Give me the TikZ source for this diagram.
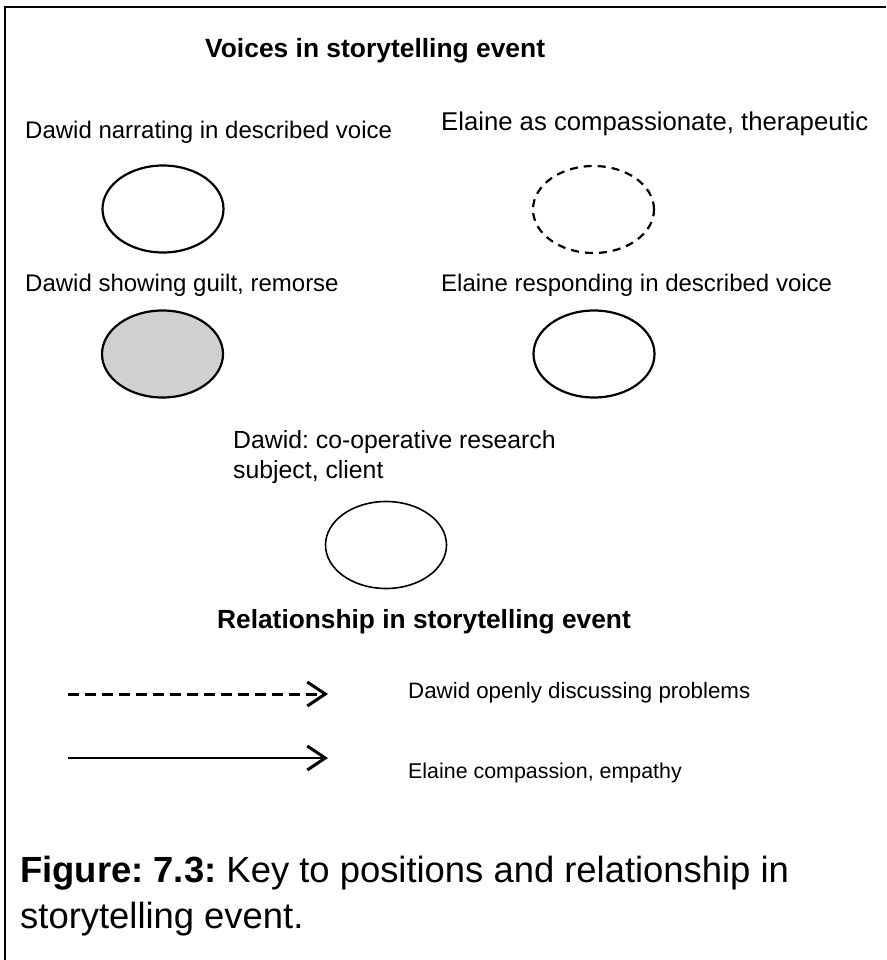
\documentclass[tikz,border=0pt]{standalone}
\usepackage{fontspec}
\setmainfont{Liberation Sans}
\usetikzlibrary{arrows.meta,shapes.geometric}
\definecolor{voicegray}{HTML}{D0D0D0}
\frenchspacing
\tikzset{
  voice/.style={ellipse, draw=black, line width=2.2pt, minimum width=121pt, minimum height=87pt, inner sep=0pt},
  lbl/.style={anchor=base west, inner sep=0pt, font=\fontsize{24}{28}\selectfont},
  head/.style={anchor=base west, inner sep=0pt, font=\fontsize{26.4}{29}\selectfont\bfseries},
  captext/.style={anchor=base west, inner sep=0pt, font=\fontsize{36.4}{45}\selectfont, align=left},
  rel/.style={line width=3pt, -{Straight Barb[length=18pt,width=24pt,line width=3pt]}},
}
\begin{document}
\begin{tikzpicture}[x=1pt,y=-1pt]
\useasboundingbox (0,0) rectangle (886,960);
\draw[line width=2.5pt] (886,7) -- (5,7) -- (5,960);
\node[head] (h1) at (205,58) {Voices in storytelling event};
\node[lbl] (t1) at (25,139) {Dawid narrating in described voice};
\node[lbl, font=\fontsize{25.7}{28}\selectfont] (t2) at (441,131) {Elaine as compassionate, therapeutic};
\node[voice] (e1) at (163,209) {};
\node[voice, dashed, dash pattern=on 8pt off 6pt] (e2) at (593.5,209.5) {};
\node[lbl] (t3) at (25,291) {Dawid showing guilt, remorse};
\node[lbl] (t4) at (441,291) {Elaine responding in described voice};
\node[voice, fill=voicegray] (e3) at (162.5,354) {};
\node[voice] (e4) at (594,354) {};
\node[lbl, font=\fontsize{24.8}{28}\selectfont] (t5) at (233,448) {Dawid: co-operative research};
\node[lbl, font=\fontsize{24.8}{28}\selectfont] (t6) at (233,478) {subject, client};
\node[voice, line width=1.6pt] (e5) at (386,545) {};
\node[head, font=\fontsize{26.3}{29}\selectfont\bfseries] (h2) at (217,628) {Relationship in storytelling event};
\coordinate (a1s) at (68,694);
\coordinate (a1e) at (328,694);
\coordinate (a2s) at (68,758);
\coordinate (a2e) at (328,758);
\draw[rel, dash pattern=on 11pt off 6pt] (a1s) -- (a1e);
\draw[rel, line width=2pt] (a2s) -- (a2e);
\node[lbl, font=\fontsize{22.3}{28}\selectfont] (t7) at (408,698) {Dawid openly discussing problems};
\node[lbl, font=\fontsize{21.4}{28}\selectfont] (t8) at (408,778) {Elaine compassion, empathy};
\node[captext] (c1) at (20,882) {\textbf{Figure: 7.3:} Key to positions and relationship in};
\node[captext] (c2) at (20,928) {storytelling event.};
\end{tikzpicture}
\end{document}
